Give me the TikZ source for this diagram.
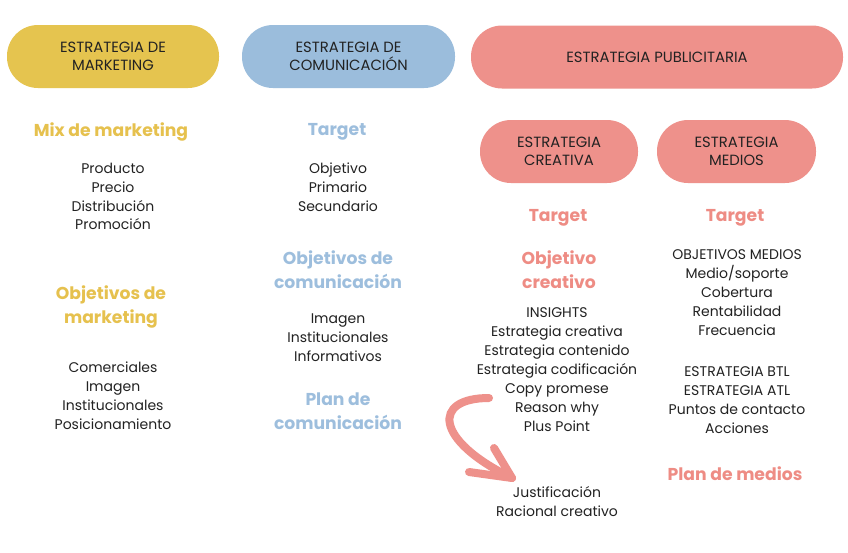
\documentclass[tikz,border=0pt]{standalone}
\usepackage{fontspec}
\setmainfont{Poppins}
\definecolor{cyel}{HTML}{E5C44F}
\definecolor{cblu}{HTML}{9BBDDC}
\definecolor{cpnk}{HTML}{EE918B}
\definecolor{hyel}{HTML}{E6C14E}
\definecolor{hblu}{HTML}{9DBEDD}
\definecolor{hpnk}{HTML}{EE8C84}
\definecolor{ink}{HTML}{222222}
\begin{document}
\begin{tikzpicture}[x=1pt,y=-1pt,
  pill/.style={fill=#1, rounded corners=31pt, minimum height=63pt, inner sep=0pt, align=center,
    text=ink, font=\fontsize{14.8}{18}\selectfont},
  head/.style={text=#1, font=\fontsize{17.2}{24}\selectfont\bfseries, align=center, inner sep=0pt},
  body/.style={text=ink, font=\fontsize{14}{18.9}\selectfont, align=center, inner sep=0pt}]
\useasboundingbox (0,0) rectangle (848,552);
\fill[white] (0,0) rectangle (848,552);
% pills
\node[pill=cyel, minimum width=212pt] (pm) at (113,56.5) {ESTRATEGIA DE\\MARKETING};
\node[pill=cblu, minimum width=213pt] (pc) at (348.5,56.5) {ESTRATEGIA DE\\COMUNICACIÓN};
\node[pill=cpnk, minimum width=372pt] (pp) at (657,57) {ESTRATEGIA PUBLICITARIA};
\node[pill=cpnk, minimum width=158pt] (pcr) at (559,151.5) {ESTRATEGIA\\CREATIVA};
\node[pill=cpnk, minimum width=159pt] (pme) at (736.5,151.5) {ESTRATEGIA\\MEDIOS};
% column 1
\node[head=hyel] (h1a) at (111,132) {Mix de marketing};
\node[body] (b1a) at (113,196.5) {Producto\\Precio\\Distribución\\Promoción};
\node[head=hyel] (h1b) at (111,307) {Objetivos de\\marketing};
\node[body] (b1b) at (113,396) {Comerciales\\Imagen\\Institucionales\\Posicionamiento};
% column 2
\node[head=hblu] (h2a) at (337,132) {Target};
\node[body] (b2a) at (338,187) {Objetivo\\Primario\\Secundario};
\node[head=hblu] (h2b) at (338,270) {Objetivos de\\comunicación};
\node[body] (b2b) at (338,337.5) {Imagen\\Institucionales\\Informativos};
\node[head=hblu] (h2c) at (338,411.5) {Plan de\\comunicación};
% column 3
\node[head=hpnk] (h3a) at (558,218) {Target};
\node[head=hpnk] (h3b) at (559,270) {Objetivo\\creativo};
\node[body] (b3a) at (557,369.5) {INSIGHTS\\Estrategia creativa\\Estrategia contenido\\Estrategia codificación\\Copy promese\\Reason why\\Plus Point};
\node[body] (b3b) at (557,501.5) {Justificación\\Racional creativo};
% column 4
\node[head=hpnk] (h4a) at (735,218) {Target};
\node[body] (b4a) at (737,292.5) {OBJETIVOS MEDIOS\\Medio/soporte\\Cobertura\\Rentabilidad\\Frecuencia};
\node[body] (b4b) at (737,400) {ESTRATEGIA BTL\\ESTRATEGIA ATL\\Puntos de contacto\\Acciones};
\node[head=hpnk] (h4b) at (735,474) {Plan de medios};
% arrow
\coordinate (as) at (489,398);
\coordinate (at) at (512,478);
\draw[cpnk, line width=8pt, line cap=round] (as) .. controls (432,398) and (434,440) .. (at);
\draw[cpnk, line width=8pt, line cap=round, line join=round] (494,448) -- (at) -- (469,472);
\end{tikzpicture}
\end{document}
